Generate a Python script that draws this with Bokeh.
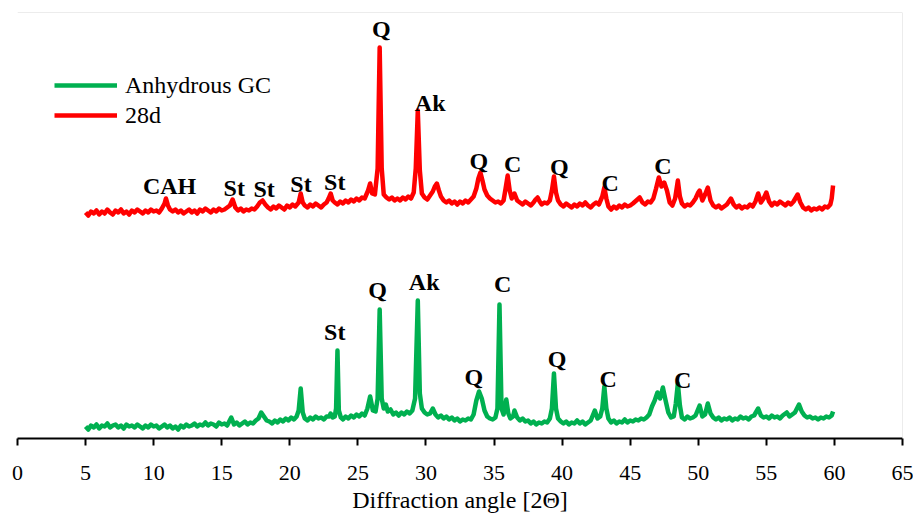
from bokeh.plotting import figure
from bokeh.models import ColumnDataSource, FixedTicker, Span, Legend, LegendItem
from bokeh.core.properties import value
from bokeh.embed import file_html
from bokeh.resources import INLINE

# ---------------- data ----------------
tick_values = [0, 5, 10, 15, 20, 25, 30, 35, 40, 45, 50, 55, 60, 65]

# Anhydrous GC pattern (2-theta in degrees, intensity in a.u.)
angle_gc = [
    5.0, 5.2, 5.4, 5.6, 5.8, 6.0, 6.2, 6.4, 6.6, 6.8,
    7.0, 7.2, 7.4, 7.6, 7.8, 8.0, 8.2, 8.4, 8.6, 8.8,
    9.0, 9.2, 9.4, 9.6, 9.8, 10.0, 10.2, 10.4, 10.6, 10.8,
    11.0, 11.2, 11.4, 11.6, 11.8, 12.0, 12.2, 12.4, 12.6, 12.8,
    13.0, 13.2, 13.4, 13.6, 13.8, 14.0, 14.2, 14.4, 14.6, 14.8,
    15.0, 15.2, 15.4, 15.7, 15.9, 16.1, 16.3, 16.5, 16.7, 16.9,
    17.1, 17.3, 17.5, 17.7, 17.9, 18.1, 18.3, 18.5, 18.7, 18.9,
    19.1, 19.3, 19.5, 19.7, 19.9, 20.1, 20.3, 20.5, 20.65, 20.8,
    20.95, 21.1, 21.3, 21.5, 21.7, 21.9, 22.1, 22.3, 22.5, 22.7,
    22.9, 23.0, 23.15, 23.3, 23.4, 23.5, 23.6, 23.75, 23.9, 24.1,
    24.3, 24.5, 24.7, 24.9, 25.1, 25.3, 25.5, 25.7, 25.9, 26.1,
    26.3, 26.45, 26.6, 26.75, 26.9, 27.05, 27.2, 27.4, 27.6, 27.8,
    28.0, 28.2, 28.4, 28.6, 28.8, 29.0, 29.2, 29.4, 29.55, 29.7,
    29.9, 30.1, 30.3, 30.5, 30.7, 30.9, 31.1, 31.3, 31.5, 31.7,
    31.9, 32.1, 32.3, 32.5, 32.7, 32.9, 33.1, 33.3, 33.5, 33.7,
    33.9, 34.1, 34.3, 34.5, 34.7, 34.9, 35.1, 35.25, 35.4, 35.55,
    35.7, 35.9, 36.05, 36.2, 36.4, 36.5, 36.7, 36.9, 37.1, 37.3,
    37.5, 37.7, 37.9, 38.1, 38.3, 38.5, 38.7, 38.9, 39.1, 39.25,
    39.4, 39.55, 39.7, 39.9, 40.1, 40.3, 40.5, 40.7, 40.9, 41.1,
    41.3, 41.5, 41.7, 41.9, 42.1, 42.4, 42.6, 42.8, 42.95, 43.1,
    43.25, 43.4, 43.6, 43.8, 44.0, 44.2, 44.4, 44.6, 44.8, 45.0,
    45.2, 45.4, 45.6, 45.8, 46.0, 46.2, 46.4, 46.6, 46.8, 47.0,
    47.2, 47.4, 47.6, 47.8, 48.0, 48.2, 48.35, 48.5, 48.65, 48.8,
    49.0, 49.2, 49.4, 49.6, 49.8, 50.1, 50.3, 50.5, 50.7, 50.9,
    51.1, 51.3, 51.5, 51.7, 51.9, 52.1, 52.3, 52.5, 52.7, 52.9,
    53.1, 53.3, 53.5, 53.7, 53.9, 54.1, 54.4, 54.6, 54.8, 55.0,
    55.2, 55.4, 55.6, 55.8, 56.0, 56.2, 56.5, 56.7, 56.9, 57.1,
    57.4, 57.6, 57.8, 58.0, 58.2, 58.4, 58.6, 58.8, 59.0, 59.2,
    59.4, 59.6, 59.8, 59.9,
]
int_gc = [
    12, 9, 13, 11, 14, 10, 13, 12, 15, 11,
    13, 14, 11, 13, 10, 14, 12, 13, 11, 14,
    12, 10, 13, 11, 14, 12, 13, 10, 12, 14,
    11, 13, 10, 12, 9, 13, 11, 14, 12, 13,
    15, 12, 14, 13, 16, 13, 15, 14, 12, 16,
    14, 15, 13, 21, 14, 16, 13, 15, 17, 14,
    16, 15, 18, 20, 26, 22, 18, 17, 15, 18,
    16, 19, 17, 20, 18, 21, 19, 22, 28, 50,
    26, 20, 18, 21, 19, 22, 20, 21, 19, 22,
    22, 25, 21, 22, 30, 88, 28, 21, 19, 22,
    20, 23, 21, 24, 22, 25, 23, 30, 42, 28,
    27, 40, 129, 40, 30, 34, 27, 29, 24, 26,
    23, 26, 24, 27, 25, 28, 40, 138, 45, 30,
    26, 24, 25, 30, 24, 21, 23, 20, 22, 19,
    21, 18, 20, 17, 19, 18, 20, 19, 24, 38,
    47, 40, 28, 22, 20, 19, 21, 30, 134, 30,
    24, 39, 25, 20, 22, 28, 21, 18, 20, 17,
    18, 15, 17, 14, 16, 15, 17, 16, 20, 30,
    65, 30, 20, 17, 15, 17, 14, 16, 15, 18,
    15, 17, 14, 16, 18, 28, 20, 22, 30, 52,
    30, 20, 16, 18, 15, 17, 16, 19, 16, 18,
    17, 19, 18, 20, 19, 21, 24, 32, 38, 46,
    40, 51, 38, 26, 21, 22, 35, 55, 33, 21,
    19, 22, 20, 21, 23, 33, 22, 24, 35, 25,
    21, 19, 21, 18, 20, 19, 21, 18, 20, 19,
    22, 20, 21, 19, 22, 23, 30, 23, 21, 22,
    20, 23, 21, 22, 20, 23, 26, 22, 24, 26,
    34, 27, 23, 21, 22, 20, 21, 19, 21, 20,
    22, 21, 23, 27,
]

# 28d pattern (stacked above the anhydrous pattern, a.u.)
angle_28d = [
    5.0, 5.2, 5.4, 5.6, 5.8, 6.0, 6.2, 6.4, 6.6, 6.8,
    7.0, 7.2, 7.4, 7.6, 7.8, 8.0, 8.2, 8.4, 8.6, 8.8,
    9.0, 9.2, 9.4, 9.6, 9.8, 10.0, 10.2, 10.4, 10.6, 10.8,
    10.9, 11.05, 11.2, 11.4, 11.6, 11.8, 12.0, 12.2, 12.4, 12.6,
    12.8, 13.0, 13.2, 13.4, 13.6, 13.8, 14.0, 14.2, 14.4, 14.6,
    14.8, 15.0, 15.2, 15.4, 15.6, 15.8, 16.0, 16.2, 16.4, 16.6,
    16.8, 17.0, 17.2, 17.4, 17.6, 17.8, 18.0, 18.2, 18.4, 18.6,
    18.8, 19.0, 19.2, 19.4, 19.6, 19.8, 20.0, 20.2, 20.4, 20.65,
    20.8, 20.95, 21.1, 21.3, 21.5, 21.7, 21.9, 22.1, 22.3, 22.5,
    22.7, 22.85, 23.0, 23.15, 23.3, 23.5, 23.7, 23.9, 24.1, 24.3,
    24.5, 24.7, 24.9, 25.1, 25.3, 25.5, 25.75, 25.9, 26.05, 26.25,
    26.45, 26.6, 26.75, 26.9, 27.1, 27.3, 27.5, 27.7, 27.9, 28.1,
    28.3, 28.5, 28.7, 28.9, 29.1, 29.25, 29.4, 29.55, 29.7, 29.9,
    30.1, 30.3, 30.5, 30.65, 30.8, 30.95, 31.1, 31.3, 31.5, 31.7,
    31.9, 32.1, 32.3, 32.5, 32.7, 32.9, 33.1, 33.3, 33.5, 33.7,
    33.85, 34.0, 34.15, 34.3, 34.5, 34.7, 34.9, 35.1, 35.3, 35.5,
    35.7, 35.85, 36.0, 36.15, 36.3, 36.5, 36.7, 36.9, 37.1, 37.3,
    37.5, 37.7, 37.9, 38.05, 38.2, 38.35, 38.5, 38.7, 38.9, 39.1,
    39.25, 39.4, 39.55, 39.7, 39.9, 40.1, 40.3, 40.5, 40.7, 40.9,
    41.1, 41.3, 41.5, 41.7, 41.9, 42.1, 42.3, 42.5, 42.7, 42.95,
    43.1, 43.25, 43.4, 43.6, 43.8, 44.0, 44.2, 44.4, 44.6, 44.8,
    45.0, 45.2, 45.45, 45.7, 45.9, 46.1, 46.3, 46.5, 46.7, 46.9,
    47.1, 47.3, 47.5, 47.7, 47.9, 48.1, 48.3, 48.5, 48.65, 48.8,
    49.0, 49.2, 49.4, 49.6, 49.8, 50.0, 50.1, 50.3, 50.5, 50.7,
    50.9, 51.1, 51.3, 51.5, 51.7, 51.9, 52.1, 52.4, 52.6, 52.8,
    53.0, 53.2, 53.4, 53.6, 53.8, 54.0, 54.2, 54.4, 54.6, 54.8,
    55.0, 55.2, 55.4, 55.6, 55.8, 56.0, 56.2, 56.4, 56.6, 56.8,
    57.0, 57.3, 57.5, 57.7, 57.9, 58.1, 58.3, 58.5, 58.7, 58.9,
    59.1, 59.3, 59.5, 59.7, 59.8, 59.9,
]
int_28d = [
    226, 223, 227, 225, 228, 224, 227, 225, 229, 226,
    224, 228, 226, 229, 225, 227, 224, 228, 226, 229,
    227, 225, 228, 226, 229, 227, 228, 226, 230, 235,
    240, 233, 229, 227, 229, 226, 228, 225, 227, 229,
    226, 228, 225, 229, 227, 230, 228, 226, 229, 227,
    230, 228, 229, 231, 233, 239, 231, 228, 230, 227,
    229, 228, 230, 229, 232, 236, 238, 234, 231, 229,
    232, 230, 233, 231, 229, 233, 231, 234, 232, 236,
    245, 236, 233, 231, 234, 232, 235, 233, 231, 234,
    236, 240, 245, 238, 236, 234, 237, 235, 238, 236,
    239, 237, 240, 238, 241, 240, 248, 255, 245, 244,
    270, 391, 270, 244, 241, 239, 241, 238, 240, 238,
    241, 239, 242, 240, 246, 270, 328, 268, 245, 241,
    239, 243, 247, 252, 255, 248, 242, 238, 236, 238,
    235, 237, 234, 237, 235, 238, 236, 239, 242, 250,
    260, 266, 258, 249, 243, 240, 238, 236, 237, 235,
    238, 250, 263, 248, 240, 245, 238, 236, 234, 237,
    235, 233, 236, 239, 241, 237, 234, 236, 235, 238,
    248, 262, 246, 238, 234, 232, 235, 233, 231, 234,
    232, 235, 233, 236, 233, 231, 234, 236, 234, 242,
    251, 240, 232, 229, 232, 230, 233, 231, 234, 232,
    233, 235, 238, 241, 236, 234, 237, 236, 240, 250,
    261, 252, 256, 248, 236, 233, 240, 258, 242, 235,
    232, 234, 233, 236, 240, 246, 248, 238, 244, 251,
    238, 233, 231, 233, 230, 232, 234, 240, 234, 231,
    233, 230, 232, 231, 234, 232, 237, 245, 236, 240,
    246, 237, 233, 236, 234, 237, 235, 233, 236, 234,
    237, 244, 236, 231, 229, 231, 228, 230, 229, 231,
    229, 232, 231, 234, 240, 253,
]

# phase labels (Q quartz, Ak akermanite, C calcite, St stratlingite, CAH)
labels_28d = ["Q", "Ak", "CAH", "St", "St", "St", "St", "Q", "C", "Q", "C", "C"]
label_angle_28d = [26.73, 30.31, 11.17, 15.92, 18.11, 20.82, 23.30, 33.89, 36.37, 39.80, 43.53, 47.40]
label_int_28d = [410, 336, 253, 251, 250, 255, 257, 278, 275, 272, 256, 273]

labels_gc = ["St", "Q", "Ak", "C", "Q", "Q", "C", "C"]
label_angle_gc = [23.30, 26.44, 29.87, 35.64, 33.52, 39.63, 43.38, 48.86]
label_int_gc = [107, 149, 157, 155, 62, 80, 60, 59]

assert len(angle_gc) == len(int_gc), (len(angle_gc), len(int_gc))
assert len(angle_28d) == len(int_28d), (len(angle_28d), len(int_28d))

# ---------------- figure ----------------
SERIF = "Liberation Serif"

p = figure(width=913, height=515, x_range=(0, 65), y_range=(0, 426),
           y_axis_type=None, output_backend="svg", toolbar_location=None,
           min_border_left=17, min_border_right=11, min_border_top=12,
           min_border_bottom=77)
p.grid.visible = False
p.outline_line_color = None
p.background_fill_color = "white"
p.border_fill_color = "white"

p.add_layout(Span(location=426, dimension="width", line_color="#D9D9D9", line_width=1))
p.add_layout(Span(location=65, dimension="height", line_color="#D9D9D9", line_width=1))

src_gc = ColumnDataSource(dict(x=angle_gc, y=int_gc))
src_28 = ColumnDataSource(dict(x=angle_28d, y=int_28d))
r_gc = p.line("x", "y", source=src_gc, line_color="#00B050", line_width=4.5,
              line_join="round")
r_28 = p.line("x", "y", source=src_28, line_color="#FF0000", line_width=4.5,
              line_join="round")

lab28 = ColumnDataSource(dict(x=label_angle_28d, y=label_int_28d, t=labels_28d))
labgc = ColumnDataSource(dict(x=label_angle_gc, y=label_int_gc, t=labels_gc))
for s in (lab28, labgc):
    p.text("x", "y", text="t", source=s, text_font=value(SERIF),
           text_font_style="bold", text_font_size="24px", text_align="center",
           text_baseline="middle", text_color="black")

ax = p.xaxis[0]
ax.ticker = FixedTicker(ticks=tick_values)
ax.axis_line_color = "black"
ax.axis_line_width = 2
ax.major_tick_line_color = "black"
ax.major_tick_line_width = 2
ax.major_tick_out = 7
ax.major_tick_in = 0
ax.minor_tick_out = 0
ax.minor_tick_in = 0
ax.major_label_text_font = SERIF
ax.major_label_text_font_size = "22px"
ax.major_label_text_color = "black"
ax.major_label_standoff = 20
ax.axis_label = "Diffraction angle [2\u0398]"
ax.axis_label_text_font = SERIF
ax.axis_label_text_font_size = "24px"
ax.axis_label_text_font_style = "normal"
ax.axis_label_text_color = "black"
ax.axis_label_standoff = 4

legend = Legend(items=[LegendItem(label="Anhydrous GC", renderers=[r_gc]),
                       LegendItem(label="28d", renderers=[r_28])],
                location=(37, 308), glyph_width=63, glyph_height=30,
                label_height=30, spacing=0, padding=0, margin=0,
                label_standoff=8, border_line_color=None,
                background_fill_alpha=0, label_text_font=SERIF,
                label_text_font_size="24px", label_text_color="black")
p.add_layout(legend)

open("out.html", "w").write(file_html(p, INLINE))
